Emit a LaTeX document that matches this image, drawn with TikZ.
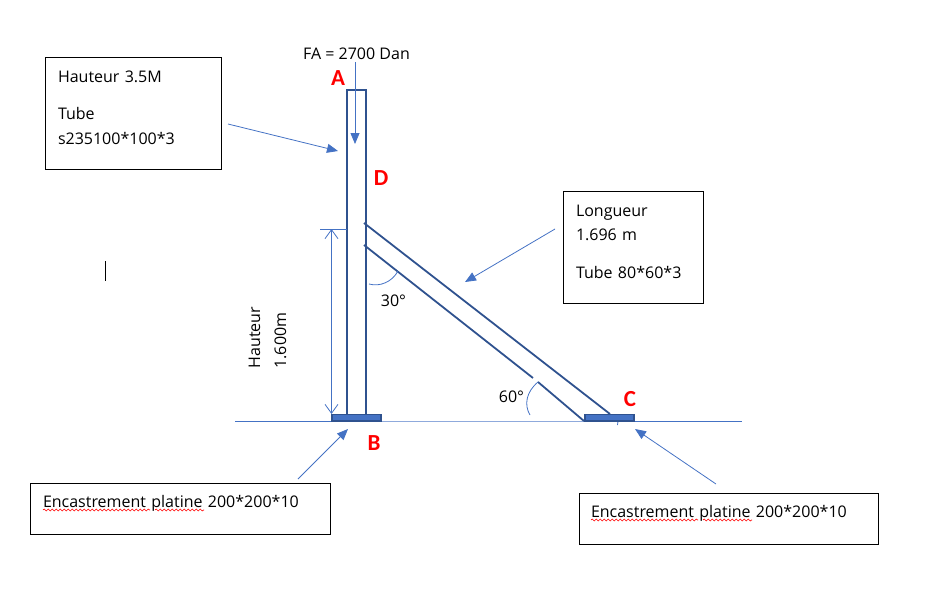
\documentclass[tikz,border=0pt]{standalone}
\usepackage{fontspec}
\setmainfont{Open Sans}
\newfontfamily\labelfont{Carlito}
\usetikzlibrary{arrows.meta,decorations.pathmorphing}

\definecolor{ccblue}{RGB}{68,114,196}
\definecolor{ccpale}{RGB}{143,170,220}
\definecolor{ccdark}{RGB}{47,82,143}

\tikzset{
  tube/.style={color=ccdark, line width=1.8pt},
  thin blue/.style={color=ccblue, line width=0.8pt},
  pointer/.style={thin blue, -{Triangle[length=11pt,width=9pt]}},
  dimension/.style={thin blue, {Straight Barb[length=9pt,width=13pt]}-{Straight Barb[length=9pt,width=13pt]}},
  plate/.style={draw=ccdark, fill=ccblue, line width=1.2pt},
  infobox/.style={draw=black, line width=0.9pt, anchor=north west, outer sep=0pt, inner ysep=0pt, align=left, font=\fontsize{16}{24.5}\selectfont},
  point/.style={text=red, font=\labelfont\bfseries\fontsize{23}{23}\selectfont},
  angle/.style={font=\fontsize{16}{18}\selectfont},
  spelling/.style={color=red, line width=0.6pt, decorate, decoration={snake, amplitude=1pt, segment length=4pt}},
}

\begin{document}
\begin{tikzpicture}[x=1pt, y=-1pt]
  \useasboundingbox (0,0) rectangle (926,614);

  % Ground
  \draw[thin blue] (235,421.5) -- (332,421.5);
  \draw[color=ccpale, line width=0.8pt] (381,421.5) -- (585,421.5);
  \draw[thin blue] (634,421.5) -- (742,421.5);
  \draw[thin blue] (618,421.5) -- (617.5,425);

  % Post
  \draw[tube] (347,414) -- (347,90) -- (366,90) -- (366,414);
  \draw[plate] (332,414.5) rectangle (381,421);

  % Strut
  \draw[tube] (364,223) -- (610,414);
  \draw[tube] (364,245) -- (533,378);
  \draw[tube] (538,382) -- (584,421);
  \draw[plate] (585,414.5) rectangle (634,421);

  % Angles
  \draw[thin blue] (369,284) .. controls (380,287) and (392,282) .. (398,271);
  \draw[thin blue] (530,415) .. controls (524,405) and (526,392) .. (538,382);
  \draw (393.5,301) node[angle] (angletop) {30°};
  \draw (511.5,397) node[angle] (anglebottom) {60°};

  % Height
  \coordinate (heighttop) at (320,229);
  \coordinate (heightbottom) at (331.5,414);
  \draw[thin blue] (heighttop) -- (347,229);
  \draw[dimension] (heighttop -| heightbottom) -- (heightbottom);
  \draw (267.5,372) node[rotate=90, anchor=west, align=left, font=\fontsize{16}{26}\selectfont] (height) {Hauteur\\1.600m};

  % Load
  \draw (356.5,53.5) node[font=\fontsize{16}{18}\selectfont] (load) {FA = 2700 Dan};
  \coordinate (loadstart) at (355,62);
  \coordinate (loadend) at (355,144);
  \draw[pointer] (loadstart) -- (loadend);

  % Points
  \draw (338,78) node[point] (pointa) {A};
  \draw (381,178) node[point] (pointd) {D};
  \draw (374,443) node[point] (pointb) {B};
  \draw (630,399) node[point] (pointc) {C};

  % Boxes
  \draw (45,57.5) node[infobox, inner xsep=13pt, text width=150.5pt, text height=24.5pt, text depth=87.5pt] (boxpost) {Hauteur 3.5M\\[13pt]Tube\\s235100*100*3};
  \draw (563.5,191.5) node[infobox, inner xsep=12.5pt, text width=115pt, text height=24.5pt, text depth=87.5pt] (boxstrut) {Longueur\\1.696 m\\[13pt]Tube 80*60*3};
  \draw (30.5,483.5) node[infobox, inner xsep=12.5pt, text width=275pt, text height=23.5pt, text depth=27pt] (boxleft) {Encastrement platine 200*200*10};
  \draw (579.5,493.5) node[infobox, inner xsep=11.5pt, text width=276pt, text height=23.5pt, text depth=27.5pt] (boxright) {Encastrement platine 200*200*10};

  % Pointers
  \coordinate (postfrom) at (228,124);
  \coordinate (postto) at (338,151);
  \draw[pointer] (postfrom) -- (postto);
  \coordinate (strutfrom) at (555,229);
  \coordinate (strutto) at (465,282);
  \draw[pointer] (strutfrom) -- (strutto);
  \coordinate (leftfrom) at (298,479);
  \coordinate (leftto) at (348,429);
  \draw[pointer] (leftfrom) -- (leftto);
  \coordinate (rightfrom) at (716,484);
  \coordinate (rightto) at (635,429);
  \draw[pointer] (rightfrom) -- (rightto);

  % Spelling
  \draw[spelling] (43,510) -- (150,510);
  \draw[spelling] (155,510) -- (204,510);
  \draw[spelling] (591,520) -- (698,520);
  \draw[spelling] (703,520) -- (752,520);

  % Cursor
  \draw[line width=0.8pt] (105.5,261) -- (105.5,281);

\end{tikzpicture}
\end{document}
